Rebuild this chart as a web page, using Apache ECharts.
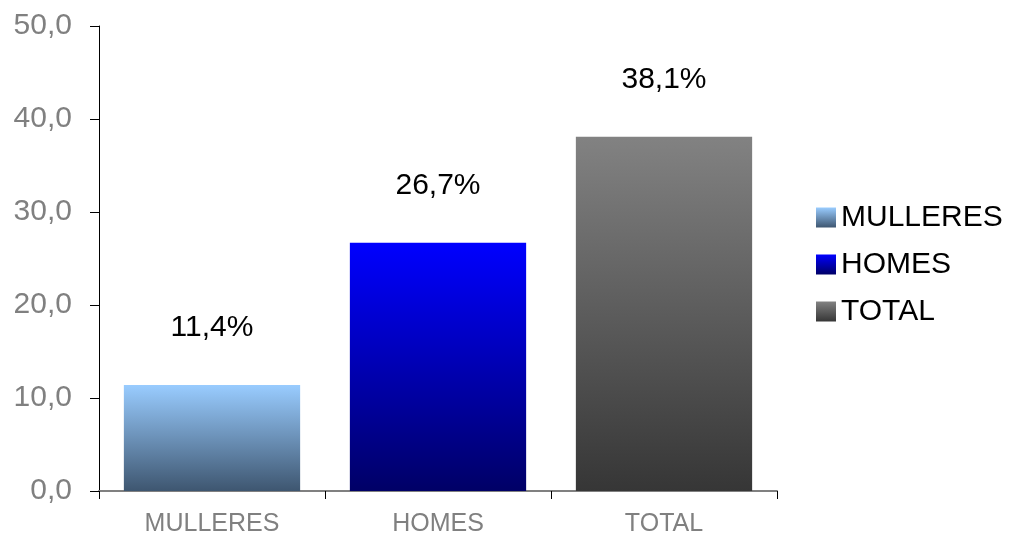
<!DOCTYPE html>
<html>
<head>
<meta charset="utf-8">
<script src="https://cdn.jsdelivr.net/npm/echarts@6/dist/echarts.min.js"></script>
<style>
    html, body { margin: 0; padding: 0; background: #fff; }
    #chart { width: 1014px; height: 538px; }
</style>
</head>
<body>
<div id="chart"></div>
<script>
    // categorías e valores (%)
    const categories = ['MULLERES', 'HOMES', 'TOTAL']
    const mulleres = [11.4, '-', '-']
    const homes = ['-', 26.7, '-']
    const total = ['-', '-', 38.1]
    const yTicks = [0, 10, 20, 30, 40, 50]

    const grad = (top, bottom) => new echarts.graphic.LinearGradient(0, 0, 0, 1, [
        { offset: 0, color: top },
        { offset: 1, color: bottom }
    ])

    const label = {
        show: true,
        position: 'top',
        distance: 42,
        color: '#000',
        fontSize: 30,
        fontFamily: 'Liberation Sans, Arial, sans-serif',
        formatter: p => String(p.value).replace('.', ',') + '%'
    }

    const makeSeries = (name, data, top, bottom) => ({
        name: name,
        type: 'bar',
        stack: 'one',
        barWidth: '78%',
        data: data,
        label: label,
        itemStyle: { color: grad(top, bottom) }
    })

    const chart = echarts.init(document.getElementById('chart'))
    chart.setOption({
        animation: false,
        textStyle: { fontFamily: 'Liberation Sans, Arial, sans-serif' },
        grid: { left: 99, right: 237, top: 26, bottom: 47 },
        legend: {
            orient: 'vertical',
            left: 811,
            top: 197,
            icon: 'rect',
            itemWidth: 20,
            itemHeight: 20,
            itemGap: 16,
            textStyle: { fontSize: 30, lineHeight: 31, color: '#000', padding: [0, 0, 0, 0] },
            data: categories
        },
        xAxis: {
            type: 'category',
            data: categories,
            axisLine: { lineStyle: { color: '#808080', width: 2 } },
            axisTick: { show: true, alignWithLabel: false, length: 8, lineStyle: { color: '#000' } },
            axisLabel: { color: '#808080', fontSize: 25, margin: 21 }
        },
        yAxis: {
            type: 'value',
            min: yTicks[0],
            max: yTicks[yTicks.length - 1],
            interval: 10,
            splitLine: { show: false },
            axisLine: { show: true, lineStyle: { color: '#000', width: 1 } },
            axisTick: { show: true, inside: false, length: 9, lineStyle: { color: '#000' } },
            axisLabel: {
                color: '#808080',
                fontSize: 30,
                margin: 27,
                formatter: v => v.toFixed(1).replace('.', ',')
            }
        },
        series: [
            makeSeries('MULLERES', mulleres, '#99ccff', '#3e5670'),
            makeSeries('HOMES', homes, '#0000ff', '#000066'),
            makeSeries('TOTAL', total, '#828282', '#363636')
        ]
    })
</script>
</body>
</html>
